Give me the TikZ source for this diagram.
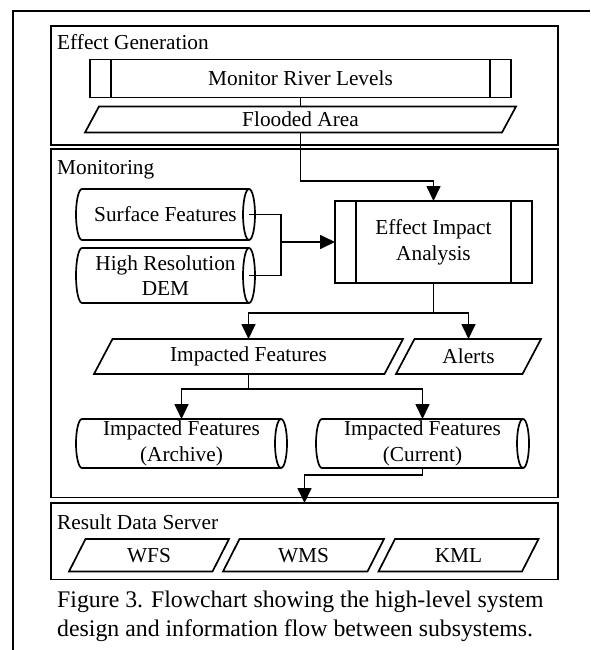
\documentclass[tikz,border=0pt]{standalone}
\usepackage{fontspec}
\setmainfont{Liberation Serif}
\usetikzlibrary{arrows.meta,calc}
\newcommand\lbfont{\fontsize{21.3}{25.6}\selectfont}
\newcommand\capfont{\fontsize{23.8}{29.6}\selectfont}
\newcommand\drawplg[2]{\draw[shp] ($(#1.north west)+(#2,0)$) -- (#1.north east) -- ($(#1.south east)-(#2,0)$) -- (#1.south west) -- cycle;}
\newcommand\drawcyl[2]{\draw[shp] (#1.north east) -- (#1.north west) arc[start angle=90, end angle=270, x radius=6pt, y radius=#2] -- (#1.south east);
  \draw[shp] (#1.east) ellipse[x radius=6pt, y radius=#2];}
\newcommand\drawproc[2]{\draw[shp] (#1.south west) rectangle (#1.north east);
  \draw[shp] ($(#1.north west)+(#2,0)$) -- ($(#1.south west)+(#2,0)$);
  \draw[shp] ($(#1.north east)-(#2,0)$) -- ($(#1.south east)-(#2,0)$);}
\begin{document}
\begin{tikzpicture}[x=1pt,y=-1pt,
  lbl/.style={font=\lbfont, inner sep=0pt, outer sep=0pt, align=center},
  shp/.style={line width=1.7pt, line join=miter},
  sect/.style={draw, line width=1.7pt, inner sep=0pt, outer sep=0pt},
  conn/.style={line width=1.7pt},
  arr/.style={line width=1.7pt, -{Triangle[length=15pt,width=14pt]}},
  seclbl/.style={font=\lbfont, inner sep=0pt, anchor=base west}]
\useasboundingbox (0,0) rectangle (590,650);
% page frame
\draw[line width=2.2pt] (13,650) -- (13,11) -- (590,11);
% sections
\node[sect, minimum width=507pt, minimum height=119pt] (eg) at (304.5,85.5) {};
\node[sect, minimum width=507pt, minimum height=348.5pt] (mon) at (304.5,323.25) {};
\node[sect, minimum width=507pt, minimum height=76.5pt] (rds) at (304.5,541.25) {};
\node[seclbl] (egl) at (57,49.5) {Effect Generation};
\node[seclbl] (monl) at (57,174) {Monitoring};
\node[seclbl] (rdsl) at (57,529) {Result Data Server};
% Effect generation
\node[lbl, minimum width=421pt, minimum height=38pt] (mrl) at (300.5,78.5) {Monitor River Levels};
\drawproc{mrl}{21}
\node[lbl, minimum width=431pt, minimum height=26pt] (fa) at (300.5,119.5) {Flooded Area};
\drawplg{fa}{14}
% Monitoring
\node[lbl, minimum width=167pt, minimum height=51pt] (sf) at (165.5,214.5) {Surface Features};
\drawcyl{sf}{25.5pt}
\node[lbl, minimum width=167pt, minimum height=55pt] (dem) at (165.5,275.5) {High Resolution\\DEM};
\drawcyl{dem}{27.5pt}
\node[lbl, minimum width=197pt, minimum height=82pt] (eia) at (433.5,242) {Effect Impact\\Analysis};
\drawproc{eia}{21}
\node[lbl, minimum width=309pt, minimum height=35pt] (ifeat) at (248.5,356.5) {Impacted Features};
\drawplg{ifeat}{18.5}
\node[lbl, minimum width=145pt, minimum height=35pt] (alrt) at (468.5,356.5) {Alerts};
\drawplg{alrt}{18.5}
\node[lbl, minimum width=199pt, minimum height=49pt] (arch) at (181.5,443.5) {Impacted Features\\(Archive)};
\drawcyl{arch}{24.5pt}
\node[lbl, minimum width=201pt, minimum height=49pt] (cur) at (422.5,443.5) {Impacted Features\\(Current)};
\drawcyl{cur}{24.5pt}
% Result data server
\node[lbl, minimum width=160pt, minimum height=32.5pt] (wfs) at (149,555.25) {WFS};
\drawplg{wfs}{16.5}
\node[lbl, minimum width=161pt, minimum height=32.5pt] (wms) at (303.5,555.25) {WMS};
\drawplg{wms}{16.5}
\node[lbl, minimum width=160pt, minimum height=32.5pt] (kml) at (458.5,555.25) {KML};
\drawplg{kml}{16.5}
% caption
\node[font=\capfont, inner sep=0pt, anchor=base west] (cap1) at (57,607) {Figure 3. Flowchart showing the high-level system};
\node[font=\capfont, inner sep=0pt, anchor=base west] (cap2) at (57,636.5) {design and information flow between subsystems.};
% connectors
\draw[conn] (mrl.south) -- (fa.north);
\draw[arr] (fa.south) -- ++(0,48.5) coordinate (j0) -| (eia.north);
\draw[conn] (sf.east) -- ++(32,0) coordinate (m1) -- (m1 |- dem.east) -- (dem.east);
\draw[arr] (m1 |- eia.west) -- (eia.west);
\draw[conn] (eia.south) -- ++(0,30) coordinate (j1);
\draw[arr] (j1) -| (ifeat.north);
\draw[arr] (j1) -| (alrt.north);
\draw[conn] (ifeat.south) -- ++(0,15) coordinate (j2);
\draw[arr] (j2) -| (arch.north);
\draw[arr] (j2) -| (cur.north);
\draw[conn] (cur.south) -- ++(0,7) coordinate (j3);
\draw[arr] (j3) -| (rds.north);
\end{tikzpicture}
\end{document}
